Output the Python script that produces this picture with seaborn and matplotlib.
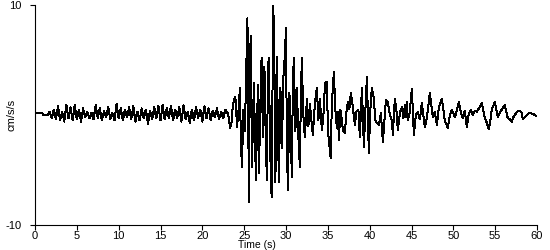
import matplotlib
matplotlib.use("Agg")
import matplotlib.pyplot as plt
import seaborn as sns
import pandas as pd

# --- quiet pre-event section (dt = 0.25 s from 1.5 s to 23.0 s) ---
quiet_start = 1.5
quiet_dt = 0.25
quiet_values = [
    0.0, 0.3, -0.3, 0.5, -0.4, 0.8, -0.5, 0.3, -0.6, 0.9,
    -0.3, 0.7, -0.5, 0.9, -0.4, 0.5, -0.6, 0.6, -0.2, 0.3,
    -0.3, 0.2, -0.4, 0.9, -0.3, 0.6, -0.5, 0.4, -0.2, 0.7,
    -0.4, 0.2, -0.5, 1.0, -0.3, 0.6, -0.5, 0.5, -0.2, 0.7,
    -0.4, 0.8, -0.6, 0.3, -0.5, 0.6, -0.3, 0.5, -0.8, 0.4,
    -0.4, 0.7, -0.3, 0.8, -0.5, 0.9, -0.4, 0.6, -0.3, 0.8,
    -0.5, 0.5, -0.3, 0.7, -0.6, 0.9, -0.4, 0.3, -0.7, 0.5,
    -0.5, 0.7, -0.3, 0.5, -0.6, 0.8, -0.3, 0.6, -0.5, 0.4,
    -0.2, 0.6, -0.4, 0.3, -0.3, 0.5, 0.2,
]

# --- lead-in (flat) ---
lead_times = [0.0, 0.9, 1.0, 1.4]
lead_values = [0.15, 0.15, 0.0, 0.0]

# --- strong motion and coda (times) ---
event_times = [
    23.18, 23.30, 23.48, 23.66, 23.89, 24.01, 24.13, 24.31, 24.49, 24.61,
    24.73, 24.91, 25.09, 25.21, 25.39, 25.57, 25.69, 25.81, 25.93, 26.16,
    26.40, 26.64, 26.76, 26.94, 27.08, 27.24, 27.42, 27.60, 27.72, 27.84,
    27.96, 28.08, 28.28, 28.47, 28.59, 28.73, 28.91, 29.03, 29.15, 29.33,
    29.51, 29.69, 29.87, 29.99, 30.11, 30.23, 30.41, 30.59, 30.70, 30.82,
    30.94, 31.12, 31.30, 31.48, 31.66, 31.78, 31.90, 32.02, 32.14, 32.26,
    32.50, 32.68, 32.86, 33.04, 33.21, 33.45, 33.69, 33.87, 34.05, 34.29,
    34.53, 34.65, 34.89, 35.01, 35.33, 35.48, 35.72, 35.90, 36.08, 36.20,
    36.32, 36.50, 36.68, 36.80, 37.04, 37.22, 37.40, 37.57, 37.75, 37.99,
    38.23, 38.41, 38.65, 38.83, 39.07, 39.31, 39.49, 39.67, 39.90, 40.08,
    40.26, 40.50, 40.68, 40.86, 41.10, 41.34, 41.58, 41.76, 41.94, 42.17,
    42.41, 42.65, 42.77, 43.01, 43.19, 43.37, 43.61, 43.85, 44.03, 44.21,
    44.33, 44.44, 44.56, 44.80, 45.04, 45.28, 45.52, 45.76, 46.00, 46.24,
    46.59, 46.83, 47.19, 47.55, 47.79, 48.03, 48.27, 48.63, 48.98, 49.34,
    49.58, 49.82, 50.18, 50.42, 50.66, 50.90, 51.14, 51.37, 51.61, 51.85,
    52.09, 52.33, 52.57, 52.81, 53.05, 53.41, 53.76, 54.00, 54.24, 54.48,
    54.60, 54.96, 55.32, 55.56, 55.79, 56.15, 56.51, 56.75, 56.99, 57.23,
    57.35, 57.59, 57.95, 58.18, 58.30, 58.54, 58.78, 59.14, 59.50, 59.98,
]
event_values = [
    -0.3, -1.2, -0.7, 1.0, 1.6, 1.3, -1.1, 0.2, 2.5, -2.5,
    -4.7, 0.5, -1.5, 2.9, 8.8, -7.9, 5.7, 7.2, -4.7, 2.9,
    -5.9, 2.7, -5.3, 1.0, 5.2, -2.0, 4.4, -3.0, -5.9, 4.5,
    5.2, -2.5, -7.5, 9.9, 7.1, -6.1, 5.3, -1.0, -6.1, 2.5,
    -3.0, 3.5, 5.5, 7.9, -3.0, -6.8, 2.0, -2.5, -5.6, 3.0,
    5.2, -1.5, 2.5, -2.0, -4.7, 2.0, 5.2, 1.0, -1.0, -2.0,
    1.5, -1.0, 1.0, -0.5, -1.8, 1.0, 2.5, -0.5, 1.5, -1.4,
    0.5, 2.9, 3.0, -1.4, -3.9, 1.0, 3.9, 0.5, -1.2, 0.3,
    -2.3, 0.5, -0.5, -1.4, -1.6, 0.3, 1.2, 0.5, 2.0, 0.7,
    -0.9, 0.3, 0.5, -2.0, 2.5, -2.9, 0.5, 3.5, -3.5, 0.5,
    2.5, 1.5, -0.5, -0.7, -0.9, 0.2, -2.5, -0.5, 1.4, 1.2,
    0.0, -0.5, -1.8, 1.5, 0.5, -1.4, 0.2, 0.7, -0.3, 0.9,
    -0.2, 1.2, -0.5, 0.3, 2.4, -1.8, 0.0, 0.3, -0.4, 1.1,
    -1.1, -0.3, 2.0, -0.2, 0.3, -0.9, 0.7, 1.5, -0.5, -1.2,
    0.0, 0.5, -0.2, 0.4, 1.2, 0.2, -0.3, 0.4, -1.1, 0.1,
    0.5, 0.0, 0.4, 0.3, 0.6, 1.1, -0.3, -0.7, -1.3, -0.2,
    0.5, 1.2, -0.2, 0.2, 0.5, 0.9, -0.3, -0.4, -0.6, -0.1,
    0.0, 0.3, 0.4, 0.2, -0.4, -0.2, 0.0, 0.2, 0.1, -0.1,
]

x_ticks = [0, 5, 10, 15, 20, 25, 30, 35, 40, 45, 50, 55, 60]
y_ticks = [-10, 10]

quiet_times = [quiet_start + quiet_dt * i for i in range(len(quiet_values))]
df = pd.DataFrame({
    "time": lead_times + quiet_times + event_times,
    "acc": lead_values + quiet_values + event_values,
})

sns.set_style("ticks")
plt.rcParams["font.family"] = ["Liberation Sans", "DejaVu Sans"]
plt.rcParams["axes.unicode_minus"] = False

fig = plt.figure(figsize=(5.5, 2.5), dpi=100)
ax = fig.add_axes([35 / 550, 25 / 250, 502 / 550, 220 / 250])
sns.lineplot(data=df, x="time", y="acc", ax=ax, sort=False, estimator=None,
             color="black", linewidth=0.72, antialiased=False)

ax.set_xlim(0, 60)
ax.set_ylim(-10, 10)
ax.set_xticks(x_ticks)
ax.set_yticks(y_ticks)
ax.tick_params(axis="x", labelsize=8, length=3.5, width=0.8, pad=1, colors="black")
ax.tick_params(axis="y", labelsize=8, length=3.5, width=0.8, pad=6, colors="black")
sns.despine(ax=ax)
for side in ("left", "bottom"):
    ax.spines[side].set_linewidth(0.8)
    ax.spines[side].set_color("black")
ax.set_xlabel("Time (s)", fontsize=7.5, labelpad=0, color="black")
ax.set_ylabel("cm/s/s", fontsize=8, color="black")
ax.xaxis.set_label_coords(0.442, -0.068)
ax.yaxis.set_label_coords(-0.036, 0.5)

fig.savefig("out.png", dpi=100, facecolor="white")
